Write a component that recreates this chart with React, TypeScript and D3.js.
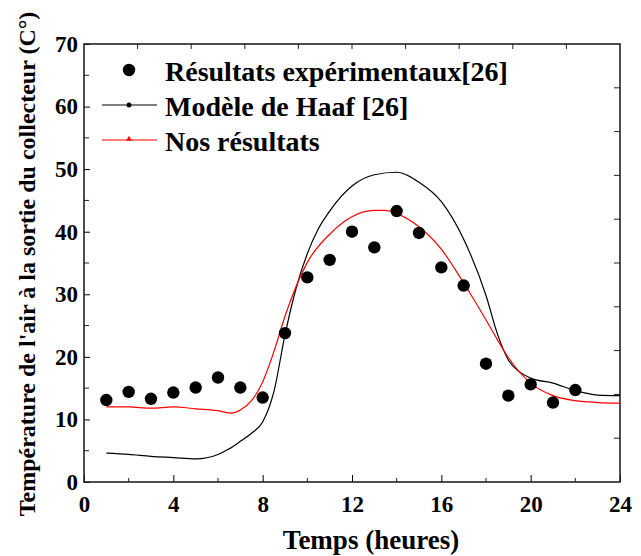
import React, { useEffect, useRef } from 'react';
import * as d3 from 'd3';

// Experimental points (hour, °C)
const expHours = [1, 2, 3, 4, 5, 6, 7, 8, 9, 10, 11, 12, 13, 14, 15, 16, 17, 18, 19, 20, 21, 22];
const expTemp = [13.1, 14.4, 13.3, 14.3, 15.1, 16.7, 15.1, 13.5, 23.8, 32.7, 35.5, 40.0, 37.5, 43.3, 39.8, 34.3, 31.4, 18.9, 13.8, 15.6, 12.7, 14.7];

// Modèle de Haaf [26]
const haafHours = [1, 2, 3, 4, 5, 6, 6.5, 7, 7.5, 8, 8.5, 9, 9.5, 10, 10.5, 11, 12, 13, 14, 15, 16, 17, 18, 18.5, 19, 19.5, 20, 21, 22, 23, 24];
const haafTemp = [4.6, 4.4, 4.1, 3.9, 3.7, 4.4, 5.3, 6.5, 7.8, 9.6, 14.4, 23.5, 31.0, 36.5, 40.5, 43.3, 47.3, 49.1, 49.5, 47.9, 44.8, 38.8, 29.8, 23.8, 19.5, 17.6, 16.6, 15.8, 14.6, 13.9, 13.8];

// Nos résultats
const nosHours = [1, 2, 3, 4, 5, 6, 6.6, 7, 7.5, 8, 8.5, 9, 9.5, 10, 11, 12, 13, 13.5, 14, 15, 16, 17, 18, 18.5, 19, 20, 21, 22, 23, 24];
const nosTemp = [12.0, 12.0, 11.8, 12.0, 11.7, 11.4, 11.0, 11.5, 13.0, 16.0, 20.8, 26.5, 31.3, 35.1, 39.6, 42.4, 43.4, 43.4, 42.9, 40.8, 37.2, 31.8, 25.9, 22.8, 19.9, 15.8, 13.8, 13.0, 12.7, 12.6];

const xMajor = [0, 4, 8, 12, 16, 20, 24];
const xMinor = [2, 6, 10, 14, 18, 22];
const yMajor = [0, 10, 20, 30, 40, 50, 60, 70];
const yMinor = [5, 15, 25, 35, 45, 55, 65];

const legendLabels = ['Résultats expérimentaux[26]', 'Modèle de Haaf [26]', 'Nos résultats'];

const W = 641;
const H = 556;
const FONT = '"Liberation Serif", "Times New Roman", serif';

const App: React.FC = () => {
  const svgRef = useRef<SVGSVGElement>(null);

  useEffect(() => {
    if (!svgRef.current) return;
    const svg = d3.select(svgRef.current);
    svg.selectAll('*').remove();

    const x = d3.scaleLinear().domain([0, 24]).range([84, 620]);
    const y = d3.scaleLinear().domain([0, 70]).range([482, 44]);
    const [x0, x1] = x.range();
    const [y0, y1] = y.range();

    const axisColor = '#222';

    // bottom axis: inward ticks
    const bottom = svg.append('g').attr('transform', `translate(0,${y0})`);
    bottom
      .call(d3.axisBottom(x).tickValues(xMajor).tickSize(-7).tickPadding(14).tickFormat(d3.format('d')))
      .call((g) => g.select('.domain').remove());
    bottom
      .selectAll('.tick text')
      .attr('font-family', FONT)
      .attr('font-size', 23)
      .attr('font-weight', 'bold')
      .attr('fill', '#000');
    bottom.append('g').selectAll('line').data(xMinor).join('line')
      .attr('x1', (d) => x(d)).attr('x2', (d) => x(d))
      .attr('y1', 0).attr('y2', -4)
      .attr('stroke', axisColor);

    // left axis
    const left = svg.append('g').attr('transform', `translate(${x0},0)`);
    left
      .call(d3.axisLeft(y).tickValues(yMajor).tickSize(-6).tickPadding(6).tickFormat(d3.format('d')))
      .call((g) => g.select('.domain').remove());
    left
      .selectAll('.tick text')
      .attr('font-family', FONT)
      .attr('font-size', 23)
      .attr('font-weight', 'bold')
      .attr('fill', '#000');
    left.append('g').selectAll('line').data(yMinor).join('line')
      .attr('y1', (d) => y(d)).attr('y2', (d) => y(d))
      .attr('x1', 0).attr('x2', 5)
      .attr('stroke', axisColor);

    // top & right mirror axes (10 divisions each)
    const xTop = d3.range(1, 10).map((i) => (24 * i) / 10);
    const yRight = d3.range(1, 10).map((i) => (70 * i) / 10);
    svg.append('g').selectAll('line').data(xTop).join('line')
      .attr('x1', (d) => x(d)).attr('x2', (d) => x(d))
      .attr('y1', y1).attr('y2', y1 + 5)
      .attr('stroke', axisColor);
    svg.append('g').selectAll('line').data(yRight).join('line')
      .attr('y1', (d) => y(d)).attr('y2', (d) => y(d))
      .attr('x1', x1).attr('x2', x1 - 6)
      .attr('stroke', axisColor);

    // frame
    svg.append('rect')
      .attr('x', x0).attr('y', y1)
      .attr('width', x1 - x0).attr('height', y0 - y1)
      .attr('fill', 'none')
      .attr('stroke', axisColor)
      .attr('stroke-width', 1.6);

    // curves
    const line = d3
      .line<[number, number]>()
      .x((d) => x(d[0]))
      .y((d) => y(d[1]))
      .curve(d3.curveMonotoneX);

    const haaf = haafHours.map((h, i) => [h, haafTemp[i]] as [number, number]);
    const nos = nosHours.map((h, i) => [h, nosTemp[i]] as [number, number]);

    svg.append('path').datum(haaf)
      .attr('fill', 'none').attr('stroke', '#000').attr('stroke-width', 1.2)
      .attr('d', line);
    svg.append('path').datum(nos)
      .attr('fill', 'none').attr('stroke', '#ff0000').attr('stroke-width', 1.2)
      .attr('d', line);

    // experimental dots
    svg.append('g').selectAll('circle').data(expHours).join('circle')
      .attr('cx', (d) => x(d))
      .attr('cy', (_d, i) => y(expTemp[i]))
      .attr('r', 6.2)
      .attr('fill', '#000');

    // legend
    const lg = svg.append('g');
    const rowY = [70, 105, 140];
    const symX = 129;
    lg.append('circle').attr('cx', symX).attr('cy', rowY[0]).attr('r', 6.2).attr('fill', '#000');
    lg.append('line').attr('x1', 102).attr('x2', 157).attr('y1', rowY[1]).attr('y2', rowY[1])
      .attr('stroke', '#000').attr('stroke-width', 1.2);
    lg.append('circle').attr('cx', symX).attr('cy', rowY[1]).attr('r', 2.5).attr('fill', '#000');
    lg.append('line').attr('x1', 102).attr('x2', 157).attr('y1', rowY[2]).attr('y2', rowY[2])
      .attr('stroke', '#ff0000').attr('stroke-width', 1.2);
    lg.append('path')
      .attr('d', d3.symbol(d3.symbolTriangle, 14)())
      .attr('transform', `translate(${symX},${rowY[2] - 1})`)
      .attr('fill', '#ff0000');
    lg.selectAll('text').data(legendLabels).join('text')
      .attr('x', 165)
      .attr('y', (_d, i) => rowY[i] + 11)
      .attr('font-family', FONT)
      .attr('font-size', 28)
      .attr('font-weight', 'bold')
      .attr('fill', '#000')
      .text((d) => d);

    // axis titles
    svg.append('text')
      .attr('x', 371)
      .attr('y', 549)
      .attr('text-anchor', 'middle')
      .attr('font-family', FONT)
      .attr('font-size', 27)
      .attr('font-weight', 'bold')
      .text('Temps (heures)');
    svg.append('text')
      .attr('transform', 'translate(35,264) rotate(-90)')
      .attr('text-anchor', 'middle')
      .attr('font-family', FONT)
      .attr('font-size', 24)
      .attr('font-weight', 'bold')
      .text("Température de l'air à la sortie du collecteur (C°)");
  }, []);

  return (
    <svg
      ref={svgRef}
      width={W}
      height={H}
      style={{ position: 'absolute', left: 0, top: 0, background: '#fff' }}
    />
  );
};

export default App;
